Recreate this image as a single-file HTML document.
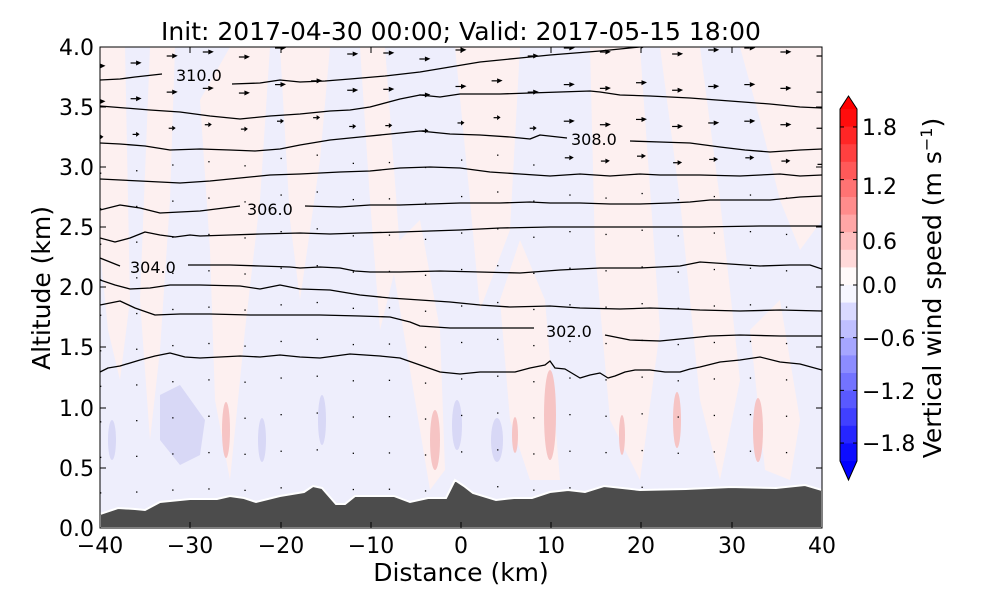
<!DOCTYPE html>
<html><head><meta charset="utf-8"><style>
body{margin:0;background:#fff;}
text{font-family:"DejaVu Sans","Liberation Sans",sans-serif;}
</style></head><body>
<svg width="1000" height="600" xmlns="http://www.w3.org/2000/svg">
<defs><clipPath id="c"><rect x="100" y="47" width="722" height="481"/></clipPath></defs>
<g clip-path="url(#c)">
<rect x="100" y="47" width="722" height="481" fill="#eeeefc"/>
<g fill="#fdf0f0">
<polygon points="100,47 125,47 130,300 120,380 108,330 100,250"/>
<polygon points="150,47 175,47 170,200 160,350 150,440 140,300"/>
<polygon points="200,100 230,47 270,47 260,200 245,330 230,480 215,400 210,250"/>
<polygon points="280,47 330,47 320,160 300,300 290,220"/>
<polygon points="360,47 385,47 400,250 380,330 370,200"/>
<polygon points="390,250 420,220 440,330 445,470 430,490 405,340"/>
<polygon points="455,47 520,47 510,230 480,310 470,200"/>
<polygon points="500,300 520,240 545,300 560,480 530,480 510,420"/>
<polygon points="590,47 640,47 660,330 640,480 610,420 595,250"/>
<polygon points="660,47 700,47 720,200 740,380 720,480 700,400 680,200"/>
<polygon points="740,47 822,47 822,220 800,250 780,200 760,120"/>
<polygon points="750,330 780,300 800,420 790,480 765,470"/>
</g>
<g fill="#d8d8f6">
<polygon points="160,395 180,385 205,420 200,455 180,465 160,440"/>
<ellipse cx="322" cy="420" rx="4" ry="25"/>
<ellipse cx="262" cy="440" rx="4" ry="22"/>
<ellipse cx="457" cy="425" rx="5" ry="25"/>
<ellipse cx="497" cy="440" rx="6" ry="22"/>
<ellipse cx="112" cy="440" rx="4" ry="20"/>
</g>
<g fill="#f6c4c4">
<ellipse cx="550" cy="415" rx="6" ry="45"/>
<ellipse cx="226" cy="430" rx="4" ry="28"/>
<ellipse cx="435" cy="440" rx="5" ry="30"/>
<ellipse cx="677" cy="420" rx="4" ry="28"/>
<ellipse cx="758" cy="430" rx="5" ry="32"/>
<ellipse cx="622" cy="435" rx="3" ry="20"/>
<ellipse cx="515" cy="435" rx="3" ry="18"/>
</g>
<g id="arrows" fill="#000"></g>
<g fill="none" stroke="#000" stroke-width="1.3" stroke-linejoin="round">
<polyline points="100,80 120,79 135,77 162,74"/><polyline points="232,84 260,83 280,80 300,82 325,81 350,79 385,76 420,72 450,67 480,62 520,58 550,55 600,51 640,47"/>
<polyline points="100,106 125,108 150,110 180,112 210,116 240,119 270,116 300,114 330,111 350,110 370,107 400,99 420,95 440,97 460,94 500,94 530,93 560,92 590,91 600,92 620,95 650,96 690,98 730,101 770,104 800,107 822,108"/>
<polyline points="100,143 120,144 145,146 170,150 200,149 230,150 255,151 280,149 300,145 330,140 360,137 390,134 420,131 450,134 480,135 510,137 530,139 540,135 567,138"/><polyline points="630,141 660,142 690,143 720,147 745,150 770,152 800,150 822,149"/>
<polyline points="100,179 140,181 180,183 210,181 240,178 270,175 300,174 340,172 370,171 400,168 430,167 460,168 490,172 520,174 550,176 580,174 610,176 640,174 660,175 700,175 740,176 780,174 800,176 822,175"/>
<polyline points="100,210 120,205 140,208 160,213 200,211 240,206"/><polyline points="305,206 340,207 370,205 400,205 430,204 460,203 500,203 530,202 550,203 580,203 610,204 640,204 670,203 690,202 710,200 730,200 770,200 800,197 822,196"/>
<polyline points="100,238 115,242 130,238 145,232 160,235 175,237 190,235 200,236 230,235 260,234 300,233 330,234 360,233 400,232 430,231 460,230 500,228 550,227 600,227 650,227 700,227 760,226 822,226"/>
<polyline points="100,258 110,262 120,266"/><polyline points="188,265 230,265 260,266 290,267 300,268 320,267 340,268 355,271 370,272 400,272 440,271 480,272 520,273 560,270 600,268 640,268 680,266 700,262 730,264 760,266 790,265 810,265 822,269"/>
<polyline points="100,280 115,285 130,289 150,288 170,285 200,285 240,286 260,289 280,285 300,289 330,290 360,295 390,298 420,300 450,302 480,305 510,307 550,306 580,308 620,309 650,308 680,309 700,310 740,311 780,310 822,311"/>
<polyline points="100,305 120,301 135,308 155,315 180,314 210,314 250,315 280,315 320,315 360,316 390,317 410,322 420,326 450,328 480,328 510,328 534,328"/><polyline points="605,335 630,340 660,341 690,338 710,336 740,335 780,336 822,336"/>
<polyline points="100,372 108,368 120,366 140,360 155,356 170,353 185,357 200,358 220,357 240,356 260,357 280,355 300,357 320,358 350,354 380,356 400,358 420,365 440,372 460,374 480,372 500,372 515,372 530,368 545,365 550,361 555,368 565,369 570,372 580,378 590,375 600,373 608,378 615,376 625,372 635,370 650,370 665,372 680,372 690,369 700,367 720,362 740,360 760,357 780,362 800,364 822,370"/>
</g>
<g font-size="16" fill="#000">
<text x="176" y="81">310.0</text><text x="571" y="145">308.0</text><text x="247" y="215">306.0</text><text x="130" y="273">304.0</text><text x="546" y="337">302.0</text>
</g>
<polygon fill="#4c4c4c" stroke="#fff" stroke-width="2" points="100,528 100,514 118,508 135,509 145,510 160,502 190,499 217,499 230,496 244,498 256,502 280,496 304,492 313,486 322,488 336,504 345,504 355,496 370,496 394,496 410,502 428,498 446,498 455,480 464,486 473,493 496,500 514,498 532,498 550,492 568,490 585,492 604,486 640,490 686,489 731,487 776,488 805,485 822,490 822,528"/>
</g>
<rect x="100" y="47" width="722" height="481" fill="none" stroke="#000" stroke-width="1"/>
<g stroke="#000" stroke-width="1">
<line x1="100" y1="528" x2="100" y2="522"/><line x1="190" y1="528" x2="190" y2="522"/><line x1="281" y1="528" x2="281" y2="522"/><line x1="371" y1="528" x2="371" y2="522"/><line x1="461" y1="528" x2="461" y2="522"/><line x1="551" y1="528" x2="551" y2="522"/><line x1="641" y1="528" x2="641" y2="522"/><line x1="732" y1="528" x2="732" y2="522"/>
<line x1="190" y1="47" x2="190" y2="53"/><line x1="281" y1="47" x2="281" y2="53"/><line x1="371" y1="47" x2="371" y2="53"/><line x1="461" y1="47" x2="461" y2="53"/><line x1="551" y1="47" x2="551" y2="53"/><line x1="641" y1="47" x2="641" y2="53"/><line x1="732" y1="47" x2="732" y2="53"/>
<line x1="100" y1="468" x2="106" y2="468"/><line x1="100" y1="408" x2="106" y2="408"/><line x1="100" y1="347" x2="106" y2="347"/><line x1="100" y1="287" x2="106" y2="287"/><line x1="100" y1="227" x2="106" y2="227"/><line x1="100" y1="167" x2="106" y2="167"/><line x1="100" y1="107" x2="106" y2="107"/>
<line x1="816" y1="468" x2="822" y2="468"/><line x1="816" y1="408" x2="822" y2="408"/><line x1="816" y1="347" x2="822" y2="347"/><line x1="816" y1="287" x2="822" y2="287"/><line x1="816" y1="227" x2="822" y2="227"/><line x1="816" y1="167" x2="822" y2="167"/><line x1="816" y1="107" x2="822" y2="107"/>
</g>
<g font-size="22" fill="#000" text-anchor="middle">
<text x="100" y="553">−40</text><text x="190" y="553">−30</text><text x="281" y="553">−20</text><text x="371" y="553">−10</text><text x="461" y="553">0</text><text x="551" y="553">10</text><text x="641" y="553">20</text><text x="732" y="553">30</text><text x="822" y="553">40</text>
</g>
<g font-size="22" fill="#000" text-anchor="end">
<text x="94" y="536">0.0</text><text x="94" y="476">0.5</text><text x="94" y="416">1.0</text><text x="94" y="355">1.5</text><text x="94" y="295">2.0</text><text x="94" y="235">2.5</text><text x="94" y="175">3.0</text><text x="94" y="115">3.5</text><text x="94" y="55">4.0</text>
</g>
<text x="461" y="581" font-size="25" text-anchor="middle">Distance (km)</text>
<text x="50" y="288" font-size="25" text-anchor="middle" transform="rotate(-90 50 288)">Altitude (km)</text>
<text x="461" y="40" font-size="25" text-anchor="middle">Init: 2017-04-30 00:00; Valid: 2017-05-15 18:00</text>
<g id="cb"></g>
<g font-size="22" fill="#000">
<text x="862" y="135">1.8</text><text x="862" y="194">1.2</text><text x="862" y="249">0.6</text><text x="862" y="293">0.0</text><text x="862" y="346">−0.6</text><text x="862" y="399">−1.2</text><text x="862" y="451">−1.8</text>
</g>
<text x="941" y="288" font-size="25" text-anchor="middle" transform="rotate(-90 941 288)">Vertical wind speed (m s<tspan dy="-9" font-size="16">−1</tspan><tspan dy="9">)</tspan></text>
</svg>
<script>
var ns="http://www.w3.org/2000/svg";
var cb=document.getElementById("cb");
var top0=109,bot=461,n=20,h=(bot-top0)/n;
function col(v){var t=Math.min(1,Math.abs(v)/2);var c=Math.round(255*(1-t));
 return v>0?"rgb(255,"+c+","+c+")":"rgb("+c+","+c+",255)";}
for(var i=0;i<n;i++){var v=2-(i+0.5)*0.2;
 if(Math.abs(v)<0.15)v=v>0?0.04:-0.07;
 var r=document.createElementNS(ns,"rect");r.setAttribute("x",840);r.setAttribute("y",top0+i*h);r.setAttribute("width",17);r.setAttribute("height",h+0.5);r.setAttribute("fill",col(v));cb.appendChild(r);}
cb.innerHTML+='<polygon points="840,109 848.5,96 857,109" fill="rgb(255,0,0)"/><polygon points="840,461 848.5,480 857,461" fill="rgb(0,0,255)"/><polygon points="840,109 848.5,96 857,109 857,461 848.5,480 840,461" fill="none" stroke="#000"/>';
[1.8,1.2,0.6,0,-0.6,-1.2,-1.8].forEach(function(v){var y=285-v*87.8;cb.innerHTML+='<line x1="840" x2="844" y1="'+y+'" y2="'+y+'" stroke="#000"/><line x1="853" x2="857" y1="'+y+'" y2="'+y+'" stroke="#000"/>';});
var a=document.getElementById("arrows"),s="";
var off=[8,5,-2,-6,-1,-10,-14,-4,-5,1,-8,-14,-2,-10,-6,-12,-4,-8,-10,-6,-2];
for(var c=0;c<21;c++){var x=100+c*36.1;
 for(var r=-1;r<13;r++){var y=58+36*r+off[c]*(1-r*0.06);
  var len;
  if(r<=1)len=11;else if(r==2)len=(x>560?11:7);else if(r==3)len=(x>560?9:0);else len=0;
  if(len>0){var hl=len*0.5;s+='<line x1="'+(x-len/2)+'" y1="'+y+'" x2="'+(x+len/2-hl)+'" y2="'+y+'" stroke="#000" stroke-width="1.2"/><polygon points="'+(x+len/2-hl)+','+(y-2.5)+' '+(x+len/2)+','+(y-0.3)+' '+(x+len/2-hl)+','+(y+2.5)+'" />';}
  else if(y>47)s+='<rect x="'+x+'" y="'+y+'" width="1.3" height="1.3"/>';}}
a.innerHTML=s;
</script>
</body></html>
